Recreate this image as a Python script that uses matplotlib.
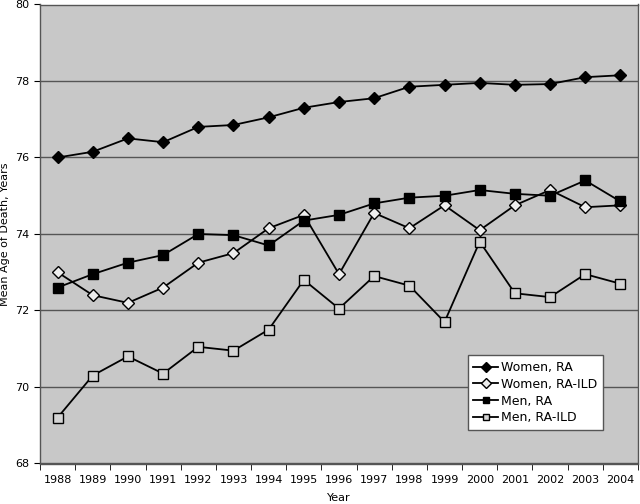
import matplotlib
matplotlib.use("Agg")
import matplotlib.pyplot as plt
import numpy as np

years = [str(y) for y in range(1988, 2005)]

women_ra = [76.0, 76.15, 76.5, 76.4, 76.8, 76.85, 77.05, 77.3, 77.45, 77.55,
            77.85, 77.9, 77.95, 77.9, 77.92, 78.1, 78.15]
women_ra_ild = [73.0, 72.4, 72.2, 72.6, 73.25, 73.5, 74.15, 74.5, 72.95, 74.55,
                74.15, 74.75, 74.1, 74.75, 75.15, 74.7, 74.75]
men_ra = [72.6, 72.95, 73.25, 73.45, 74.0, 73.97, 73.7, 74.35, 74.5, 74.8,
          74.95, 75.0, 75.15, 75.05, 75.0, 75.4, 74.85]
men_ra_ild = [69.2, 70.3, 70.8, 70.35, 71.05, 70.95, 71.5, 72.8, 72.05, 72.9,
              72.65, 71.7, 73.8, 72.45, 72.35, 72.95, 72.7]

fig = plt.figure(figsize=(6.4, 5.04), dpi=100)
ax = fig.add_axes([40 / 640, 1 - 463.5 / 504, 598 / 640, 459 / 504])
ax.set_facecolor("#c8c8c8")

x = np.arange(len(years))
ax.plot(x, women_ra, color="black", lw=1.3, marker="D", ms=6,
        mfc="black", mec="black", label="Women, RA")
ax.plot(x, women_ra_ild, color="black", lw=1.3, marker="D", ms=6,
        mfc="#eeeeee", mec="black", label="Women, RA-ILD")
ax.plot(x, men_ra, color="black", lw=1.3, marker="s", ms=7.5,
        mfc="black", mec="black", label="Men, RA")
ax.plot(x, men_ra_ild, color="black", lw=1.3, marker="s", ms=7.5,
        mfc="#d4d4d4", mec="black", label="Men, RA-ILD")

ax.set_xlim(-0.5, len(years) - 0.5)
ax.set_ylim(68, 80)
ax.set_yticks(range(68, 81, 2))
ax.yaxis.grid(True, color="#555555", lw=1)
ax.set_axisbelow(True)

ax.set_xticks(x)
ax.set_xticklabels(years, fontsize=8)
ax.set_xticks(np.arange(-0.5, len(years), 1), minor=True)
ax.tick_params(axis="x", which="major", length=0, pad=8)
ax.tick_params(axis="x", which="minor", length=4, direction="out")
ax.tick_params(axis="y", labelsize=8, length=4, direction="out")

for s in ax.spines.values():
    s.set_color("#555555")
    s.set_linewidth(1)

ax.set_xlabel("Year", fontsize=8, labelpad=6)
ax.set_ylabel("Mean Age of Death, Years", fontsize=8)

leg = ax.legend(loc="lower right", bbox_to_anchor=(0.941, 0.073), fontsize=9,
                frameon=True, fancybox=False, framealpha=1, edgecolor="#555555",
                handlelength=2.0, handletextpad=0.2, borderpad=0.45,
                labelspacing=0.3, borderaxespad=0)
for h in leg.legend_handles:
    h.set_markersize(5)

fig.savefig("out.png", dpi=100)
